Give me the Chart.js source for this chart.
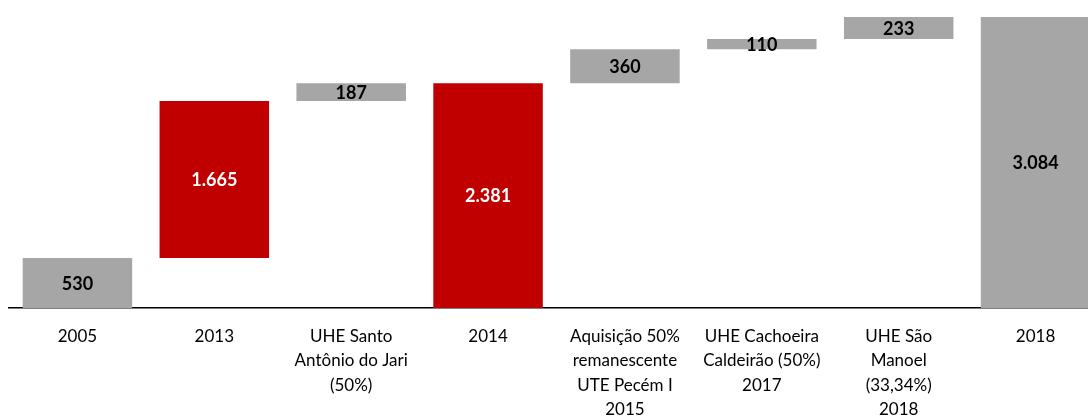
<!DOCTYPE html>
<html>
<head>
<meta charset="utf-8">
<script src="https://cdn.jsdelivr.net/npm/chart.js@4/dist/chart.umd.min.js"></script>
<style>
  html, body { margin: 0; padding: 0; background: #fff; overflow: hidden; }
  #wrap { width: 1104px; height: 419px; position: relative; }
</style>
</head>
<body>
<div id="wrap"><canvas id="chart"></canvas></div>
<script>
  // categories (multi-line labels)
  const categories = [
      '2005',
      '2013',
      ['UHE Santo', 'Antônio do Jari', '(50%)'],
      '2014',
      ['Aquisição 50%', 'remanescente', 'UTE Pecém I', '2015'],
      ['UHE Cachoeira', 'Caldeirão (50%)', '2017'],
      ['UHE São', 'Manoel', '(33,34%)', '2018'],
      '2018'
  ];
  // where each bar starts and how much it adds
  const bases = [0, 530, 2195, 0, 2381, 2741, 2851, 0];
  const values = [530, 1665, 187, 2381, 360, 110, 233, 3084];
  const isRed = [false, true, false, true, false, false, false, false];

  const RED = '#C00000', GRAY = '#A6A6A6';

  function fmt(v) {
      return String(v).replace(/\B(?=(\d{3})+(?!\d))/g, '.');
  }

  const valueLabels = {
      id: 'valueLabels',
      afterDatasetsDraw(chart) {
          const ctx = chart.ctx;
          const meta = chart.getDatasetMeta(0);
          ctx.save();
          ctx.font = 'bold 18px Lato, "Open Sans", sans-serif';
          ctx.textAlign = 'center';
          ctx.textBaseline = 'middle';
          meta.data.forEach((bar, i) => {
              ctx.fillStyle = isRed[i] ? '#ffffff' : '#000000';
              ctx.fillText(fmt(values[i]), bar.x, (bar.y + bar.base) / 2 + 1);
          });
          ctx.restore();
      }
  };

  new Chart(document.getElementById('chart'), {
      type: 'bar',
      data: {
          labels: categories,
          datasets: [{
              data: values.map((v, i) => [bases[i], bases[i] + v]),
              backgroundColor: isRed.map(r => r ? RED : GRAY),
              borderWidth: 0,
              barPercentage: 0.8,
              categoryPercentage: 1.0
          }]
      },
      options: {
          responsive: true,
          maintainAspectRatio: false,
          animation: false,
          layout: { padding: { top: 17, left: 9, right: 0, bottom: 0 } },
          plugins: {
              legend: { display: false },
              tooltip: { enabled: false }
          },
          scales: {
              x: {
                  grid: { display: false, drawTicks: false },
                  border: { display: true, color: '#000', width: 1.5 },
                  afterFit(scale) { scale.height = 111; },
                  ticks: {
                      autoSkip: false,
                      maxRotation: 0,
                      minRotation: 0,
                      padding: 16,
                      color: '#000',
                      font: { family: 'Lato, "Open Sans", sans-serif', size: 17, lineHeight: 1.44 }
                  }
              },
              y: {
                  display: false,
                  min: 0,
                  max: 3084
              }
          }
      },
      plugins: [valueLabels]
  });
</script>
</body>
</html>
